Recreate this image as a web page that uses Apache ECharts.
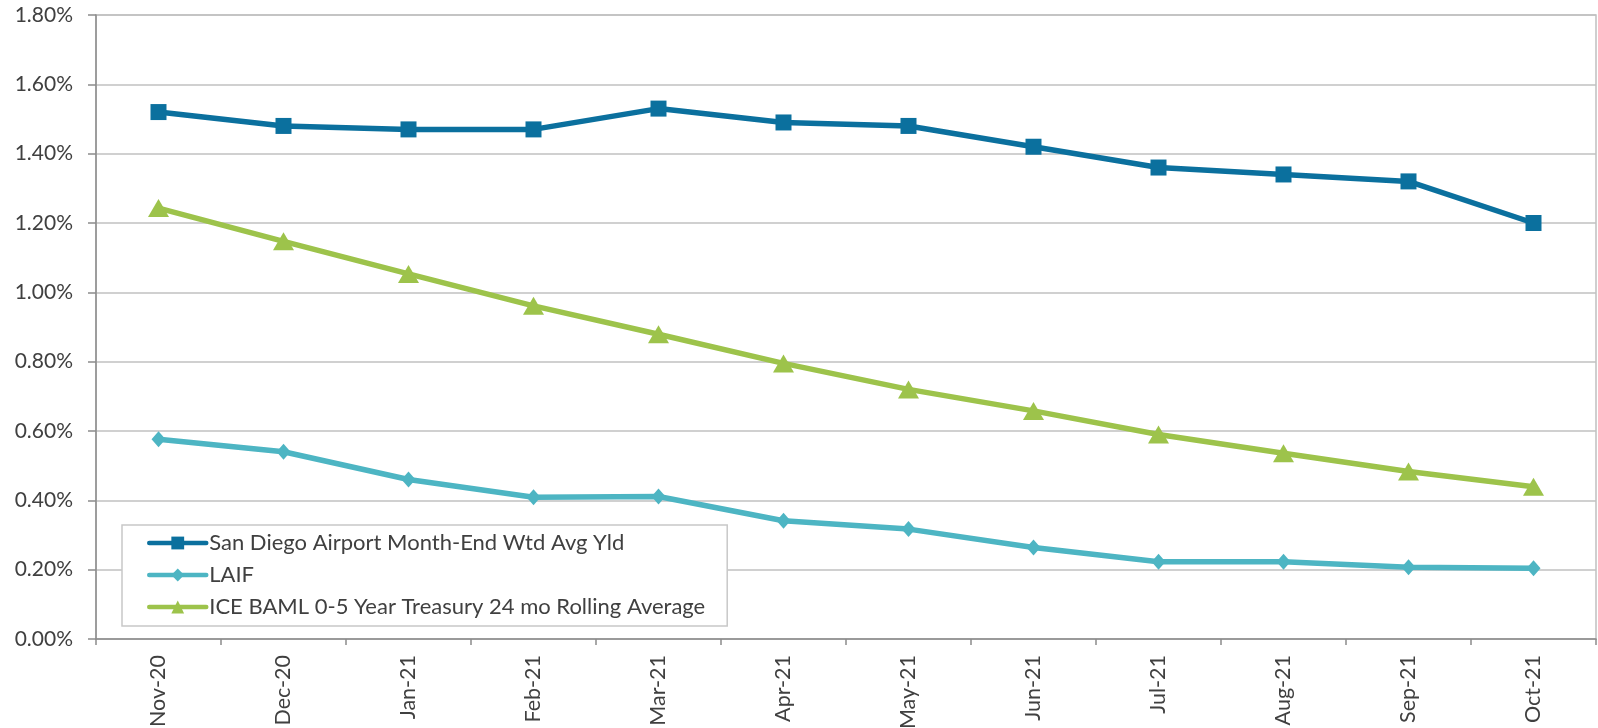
<!DOCTYPE html>
<html>
<head>
<meta charset="utf-8">
<script src="https://cdn.jsdelivr.net/npm/echarts@6/dist/echarts.min.js"></script>
<style>html,body{margin:0;padding:0;background:#fff}#c{width:1598px;height:728px}</style>
</head>
<body>
<div id="c"></div>
<script>
var categories = ['Nov-20','Dec-20','Jan-21','Feb-21','Mar-21','Apr-21','May-21','Jun-21','Jul-21','Aug-21','Sep-21','Oct-21'];
var sanDiego = [1.52,1.48,1.47,1.47,1.53,1.49,1.48,1.42,1.36,1.34,1.32,1.20];
var laif = [0.576,0.540,0.460,0.409,0.411,0.341,0.317,0.264,0.223,0.223,0.207,0.204];
var iceBaml = [1.243,1.147,1.053,0.961,0.879,0.795,0.720,0.658,0.590,0.536,0.483,0.439];
var seriesNames = ['San Diego Airport Month-End Wtd Avg Yld','LAIF','ICE BAML 0-5 Year Treasury 24 mo Rolling Average'];

var font = 'Lato, "Noto Sans", sans-serif';
var chart = echarts.init(document.getElementById('c'));
chart.setOption({
  animation: false,
  backgroundColor: '#ffffff',
  grid: {left: 96, right: 2, top: 15, bottom: 89, containLabel: false, outerBoundsMode: 'none',
         show: true, borderColor: '#c0c0c0', borderWidth: 1.5, backgroundColor: 'transparent'},
  legend: {
    orient: 'vertical', left: 122, top: 525,
    backgroundColor: '#fff', borderColor: '#c8c8c8', borderWidth: 1.5,
    padding: [7, 22, 8, 25], itemGap: 10, itemWidth: 57, itemHeight: 16,
    lineStyle: {width: 4.5, cap: 'round'},
    textStyle: {fontFamily: font, fontSize: 22, color: '#404040', padding: [0,0,0,-2]},
    data: seriesNames
  },
  xAxis: {
    type: 'category', data: categories, boundaryGap: true,
    axisLine: {lineStyle: {color: '#8c8c8c', width: 1.5}},
    axisTick: {show: true, length: 6, lineStyle: {color: '#8c8c8c', width: 1.5}},
    axisLabel: {rotate: 90, margin: 16, fontFamily: font, fontSize: 21.5, color: '#404040'}
  },
  yAxis: {
    type: 'value', min: 0, max: 1.8, interval: 0.2,
    axisLine: {show: true, lineStyle: {color: '#8c8c8c', width: 1.5}},
    axisTick: {show: true, length: 8, lineStyle: {color: '#8c8c8c', width: 1.5}},
    splitLine: {lineStyle: {color: '#c0c0c0', width: 1.5}},
    axisLabel: {margin: 23, fontFamily: font, fontSize: 21, color: '#404040', formatter: function(v){return v.toFixed(2)+'%';}}
  },
  series: [
    {name: seriesNames[0], type: 'line', data: sanDiego, symbol: 'rect', symbolSize: 16,
     lineStyle: {color: '#0b709e', width: 5.5}, itemStyle: {color: '#0b709e'}},
    {name: seriesNames[1], type: 'line', data: laif, symbol: 'diamond', symbolSize: [14, 16],
     lineStyle: {color: '#4db5c3', width: 5.5}, itemStyle: {color: '#4db5c3'}},
    {name: seriesNames[2], type: 'line', data: iceBaml, symbol: 'triangle', symbolSize: [21, 18],
     lineStyle: {color: '#9dc34b', width: 5.5}, itemStyle: {color: '#9dc34b'}}
  ]
});
</script>
</body>
</html>
